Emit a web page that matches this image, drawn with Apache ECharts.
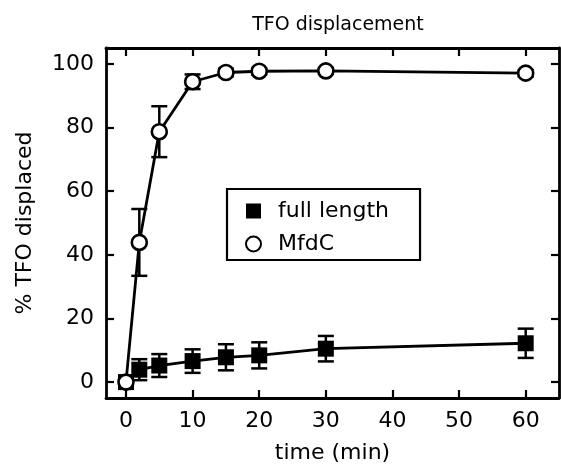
<!DOCTYPE html>
<html>
<head>
<meta charset="utf-8">
<script src="https://cdn.jsdelivr.net/npm/echarts@6/dist/echarts.min.js"></script>
<style>
  html, body { margin: 0; padding: 0; background: #fff; }
  #chart { width: 561px; height: 469px; }
</style>
</head>
<body>
<div id="chart"></div>
<script>
// data
const times = [0, 2, 5, 10, 15, 20, 30, 60]
const fullLength = [0, 3.9, 5.2, 6.6, 7.8, 8.4, 10.5, 12.2]
const fullLengthErr = [0, 3.3, 3.6, 3.7, 4.1, 4.1, 4.0, 4.6]
const mfdc = [0, 43.9, 78.7, 94.4, 97.3, 97.7, 97.8, 97.1]
const mfdcErr = [0, 10.5, 8.0, 2.3, 1.2, 1.0, 1.0, 1.0]
const xTicks = [0, 10, 20, 30, 40, 50, 60]
const yTicks = [0, 20, 40, 60, 80, 100]

const font = 'DejaVu Sans'
const black = '#000'

const pairs = (vals) => times.map((t, i) => [t, vals[i]])

// error bars drawn through the axis scales
const errorBars = (name, vals, errs, z) => ({
  name: name,
  type: 'custom',
  z: z,
  silent: true,
  data: times.map((t, i) => [t, vals[i] - errs[i], vals[i] + errs[i]]),
  encode: { x: 0, y: [1, 2] },
  renderItem: (params, api) => {
    const lo = api.coord([api.value(0), api.value(1)])
    const hi = api.coord([api.value(0), api.value(2)])
    const w = 8
    const style = { stroke: black, lineWidth: 2.5 }
    return {
      type: 'group',
      children: [
        { type: 'line', shape: { x1: lo[0], y1: lo[1], x2: hi[0], y2: hi[1] }, style },
        { type: 'line', shape: { x1: lo[0] - w, y1: lo[1], x2: lo[0] + w, y2: lo[1] }, style },
        { type: 'line', shape: { x1: hi[0] - w, y1: hi[1], x2: hi[0] + w, y2: hi[1] }, style }
      ]
    }
  }
})

const lineOf = (name, vals, z) => ({
  name: name,
  type: 'line',
  z: z,
  data: pairs(vals),
  symbol: 'none',
  silent: true,
  lineStyle: { color: black, width: 2.8 }
})

const axisCommon = {
  type: 'value',
  axisLine: { show: true, onZero: false, lineStyle: { color: black, width: 2.8 } },
  splitLine: { show: false }
}

const chart = echarts.init(document.getElementById('chart'))
chart.setOption({
  animation: false,
  backgroundColor: '#fff',
  title: {
    text: 'TFO displacement',
    left: 333,
    textAlign: 'center',
    top: 11,
    textStyle: { fontFamily: font, fontSize: 19, fontWeight: 'normal', color: black }
  },
  grid: { left: 106, right: 2, top: 48, bottom: 68 },
  legend: {
    data: ['full length', 'MfdC'],
    orient: 'vertical',
    left: 227,
    top: 189,
    borderColor: black,
    borderWidth: 2.2,
    borderRadius: 0,
    padding: [10, 31, 4, 18],
    itemWidth: 15,
    itemHeight: 15,
    itemGap: 9,
    selectedMode: false,
    textStyle: { fontFamily: font, fontSize: 22, color: black, lineHeight: 24, padding: [0, 0, 0, 12] }
  },
  xAxis: [
    Object.assign({}, axisCommon, {
      min: -3, max: 65, position: 'bottom',
      axisTick: { show: true, inside: true, length: 8, customValues: xTicks, lineStyle: { color: black, width: 2.2 } },
      axisLabel: { customValues: xTicks, fontFamily: font, fontSize: 22, color: black, margin: 12 },
      name: 'time (min)', nameLocation: 'middle', nameGap: 44,
      nameTextStyle: { fontFamily: font, fontSize: 22, color: black }
    }),
    Object.assign({}, axisCommon, {
      min: -3, max: 65, position: 'top',
      axisTick: { show: true, inside: true, length: 8, customValues: xTicks, lineStyle: { color: black, width: 2.2 } },
      axisLabel: { show: false }
    })
  ],
  yAxis: [
    Object.assign({}, axisCommon, {
      min: -5, max: 105, position: 'left',
      axisTick: { show: true, inside: true, length: 8, customValues: yTicks, lineStyle: { color: black, width: 2.2 } },
      axisLabel: { customValues: yTicks, fontFamily: font, fontSize: 22, color: black, margin: 12 },
      name: '% TFO displaced', nameLocation: 'middle', nameGap: 70,
      nameTextStyle: { fontFamily: font, fontSize: 22, color: black }
    }),
    Object.assign({}, axisCommon, {
      min: -5, max: 105, position: 'right',
      axisTick: { show: true, inside: true, length: 8, customValues: yTicks, lineStyle: { color: black, width: 2.2 } },
      axisLabel: { show: false }
    })
  ],
  series: [
    lineOf('full length line', fullLength, 2),
    errorBars('full length err', fullLength, fullLengthErr, 3),
    {
      name: 'full length',
      type: 'scatter',
      z: 4,
      data: pairs(fullLength),
      symbol: 'rect',
      symbolSize: 16,
      itemStyle: { color: black, opacity: 1 }
    },
    lineOf('MfdC line', mfdc, 5),
    errorBars('MfdC err', mfdc, mfdcErr, 6),
    {
      name: 'MfdC',
      type: 'scatter',
      z: 7,
      data: pairs(mfdc),
      symbol: 'circle',
      symbolSize: 15,
      itemStyle: { color: '#fff', borderColor: black, borderWidth: 2.6, opacity: 1 }
    }
  ]
})
</script>
</body>
</html>
